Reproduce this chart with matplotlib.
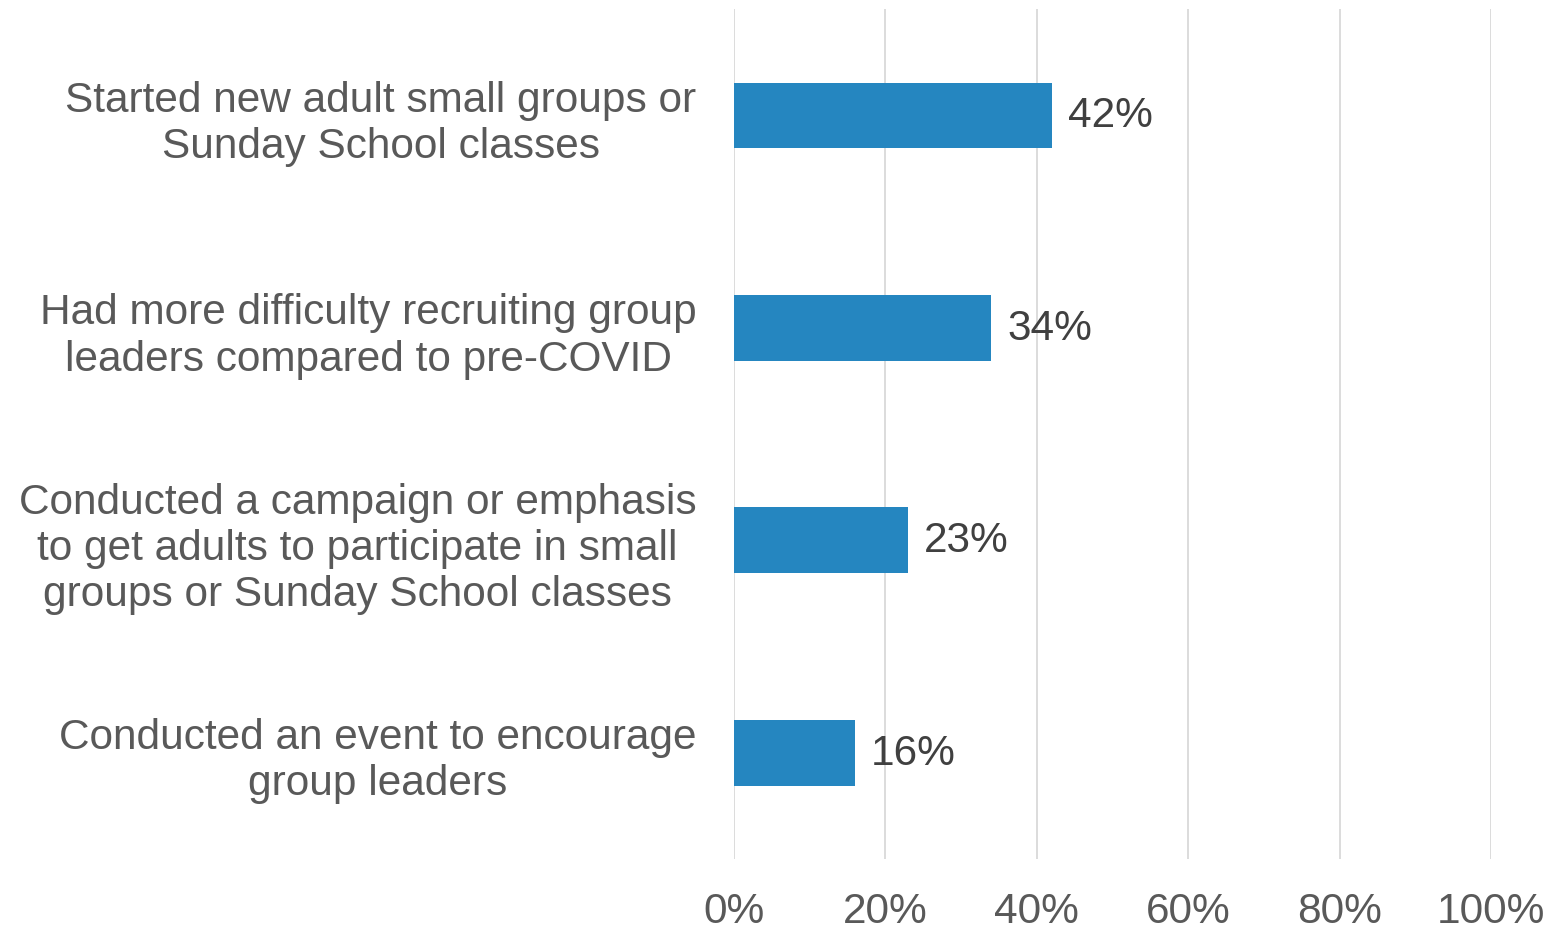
import matplotlib
matplotlib.use("Agg")
import matplotlib.pyplot as plt

plt.rcParams['font.family'] = ['Liberation Sans', 'DejaVu Sans']

categories = [
    "Started new adult small groups or\nSunday School classes",
    "Had more difficulty recruiting group\nleaders compared to pre-COVID",
    "Conducted a campaign or emphasis\nto get adults to participate in small\ngroups or Sunday School classes",
    "Conducted an event to encourage\ngroup leaders",
]
values = [42, 34, 23, 16]
xticks = [0, 20, 40, 60, 80, 100]

fig = plt.figure(figsize=(15.55, 9.29), dpi=100)
ax = fig.add_axes([0.472, 0.0743, 0.4868, 0.9147])

ypos = list(range(len(categories)))
ax.barh(ypos, values, height=0.31, color="#2586C0", zorder=3)
for y, v in zip(ypos, values):
    ax.text(v + 2.1, y, f"{v}%", va="center", ha="left", fontsize=30.5, color="#404040")

ax.set_xlim(0, 100)
ax.set_ylim(3.5, -0.5)
ax.set_xticks(xticks)
ax.set_xticklabels([f"{t}%" for t in xticks], fontsize=30.5, color="#595959")
ax.set_yticks(ypos)
ax.set_yticklabels(categories, fontsize=30.5, color="#595959", multialignment="center",
                   linespacing=1.2)
ax.tick_params(axis="both", length=0)
ax.tick_params(axis="y", pad=27)
ax.tick_params(axis="x", pad=23)
ax.grid(axis="x", color="#D9D9D9", linewidth=1.3, zorder=0)
for s in ax.spines.values():
    s.set_visible(False)

fig.savefig("out.png", dpi=100)
